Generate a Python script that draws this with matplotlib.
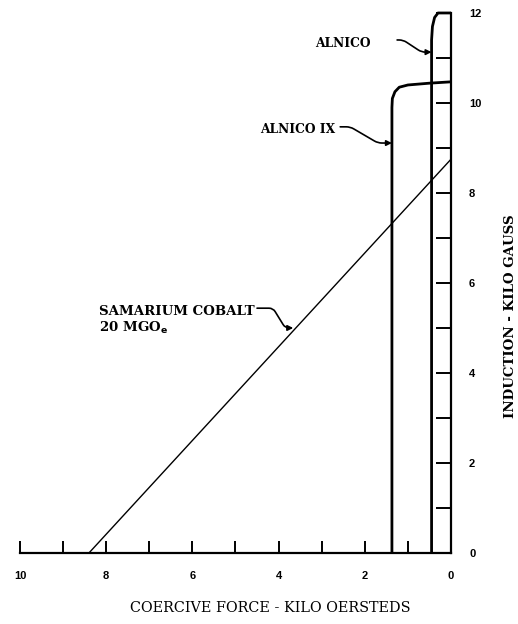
import matplotlib
matplotlib.use("Agg")
import matplotlib.pyplot as plt

# Data (H in kilo-oersteds, B in kilo-gauss)
alnico_H = [0.0, 0.30, 0.38, 0.43, 0.45, 0.45]
alnico_B = [12.0, 12.0, 11.9, 11.7, 11.4, 0.0]
alnico9_H = [0.0, 0.5, 1.0, 1.2, 1.3, 1.36, 1.37, 1.37]
alnico9_B = [10.47, 10.44, 10.40, 10.35, 10.25, 10.10, 9.9, 0.0]
smco_H = [0.0, 8.4]
smco_B = [8.75, 0.0]
x_ticks = list(range(0, 11))
x_labels = [str(v) if v % 2 == 0 else "" for v in x_ticks]
y_ticks = list(range(0, 13))
y_labels = [str(v) if v % 2 == 0 else "" for v in y_ticks]

serif = ["DejaVu Serif"]
sans = ["Liberation Sans", "DejaVu Sans"]

fig = plt.figure(figsize=(5.18, 6.24), dpi=100)
ax = fig.add_axes([0.0386, 0.1138, 0.832, 0.8654])
ax.set_xlim(10, 0)
ax.set_ylim(0, 12)

for s in ["top", "left"]:
    ax.spines[s].set_visible(False)
for s in ["bottom", "right"]:
    ax.spines[s].set_linewidth(1.6)
    ax.spines[s].set_color("black")

ax.yaxis.tick_right()
ax.set_xticks(x_ticks)
ax.set_xticklabels(x_labels, fontfamily=sans, fontweight="bold", fontsize=8)
ax.set_yticks(y_ticks)
ax.set_yticklabels(y_labels, fontfamily=sans, fontweight="bold", fontsize=8)
ax.tick_params(axis="x", direction="in", length=9, width=1.4, pad=13)
ax.tick_params(axis="y", direction="in", length=11, width=1.4, pad=13)

ax.plot(smco_H, smco_B, color="black", lw=1.0, clip_on=False)
ax.plot(alnico_H, alnico_B, color="black", lw=2.0, clip_on=False, solid_capstyle="butt")
ax.plot(alnico9_H, alnico9_B, color="black", lw=2.0, clip_on=False, solid_capstyle="butt")

fig.text(270.5 / 518, 1 - 608 / 624, "COERCIVE FORCE - KILO OERSTEDS", fontfamily=serif,
         fontsize=10.4, ha="center", va="center")
fig.text(511 / 518, 1 - 316 / 624, "INDUCTION - KILO GAUSS", fontfamily=serif,
         fontweight="bold", fontsize=9.6, ha="center", va="center", rotation=90)

lab_kw = dict(fontfamily=serif, fontweight="bold", fontsize=8.8, va="center")


def squiggle(start, tip, armA, armB):
    ax.annotate("", xy=tip, xytext=start,
                arrowprops=dict(arrowstyle="-|>", color="black", lw=1.2, mutation_scale=8,
                                shrinkA=0, shrinkB=0,
                                connectionstyle=f"arc,angleA=0,angleB=180,armA={armA},armB={armB},rad=4"))


ax.text(1.875, 11.33, "ALNICO", ha="right", **lab_kw)
squiggle((1.25, 11.4), (0.45, 11.13), 6, 10)
ax.text(2.69, 9.4, "ALNICO IX", ha="right", **lab_kw)
squiggle((2.57, 9.47), (1.37, 9.11), 10, 14)
ax.text(8.17, 5.36, "SAMARIUM COBALT", ha="left", fontfamily=serif, fontweight="bold",
        fontsize=9.6, va="center")
ax.text(8.17, 5.0, r"20 MGO$_{\mathbf{e}}$", ha="left", fontfamily=serif, fontweight="bold",
        fontsize=9.6, va="center")
squiggle((4.5, 5.44), (3.66, 5.0), 16, 8)

fig.savefig("out.png", dpi=100)
